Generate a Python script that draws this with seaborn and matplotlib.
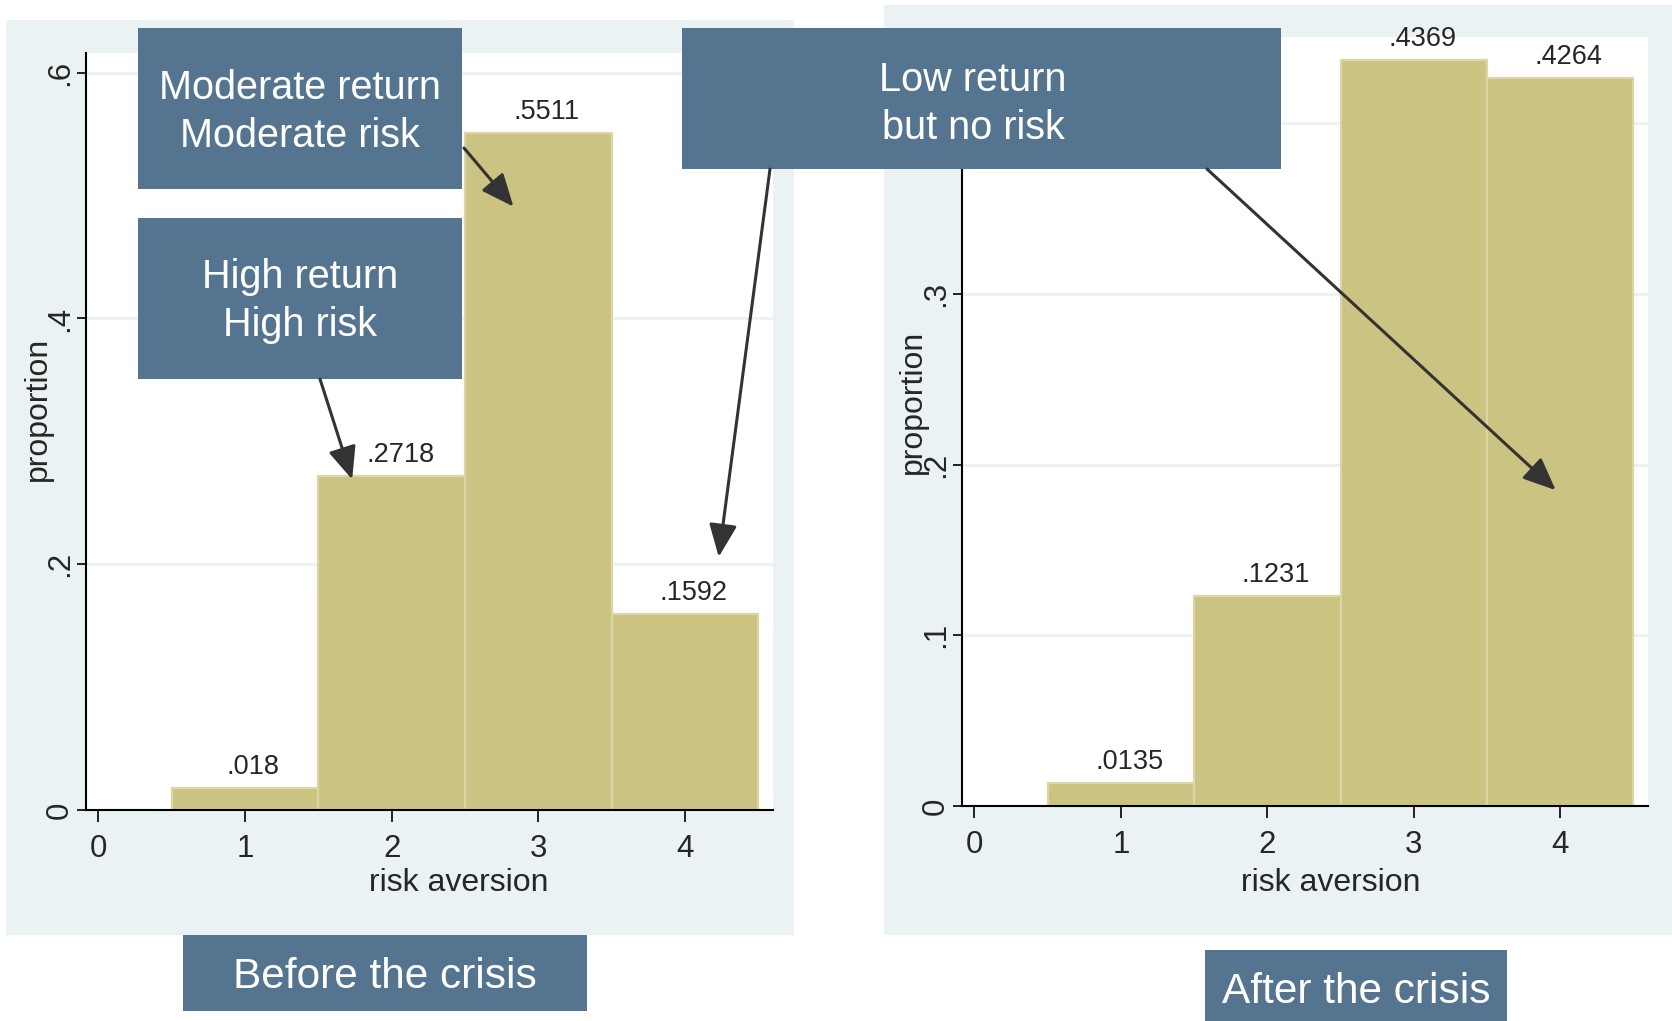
import matplotlib
matplotlib.use("Agg")
import matplotlib.pyplot as plt
from matplotlib.patches import Rectangle, ConnectionPatch
import pandas as pd
import seaborn as sns

sns.set_style("white")
plt.rcParams['font.family'] = ['Liberation Sans', 'DejaVu Sans']

# share of respondents per risk-aversion level
levels = [1, 2, 3, 4]
before = [0.018, 0.2718, 0.5511, 0.1592]
after = [0.0135, 0.1231, 0.4369, 0.4264]
xticks = [0, 1, 2, 3, 4]
before_yticks = [0, 0.2, 0.4, 0.6]
after_yticks = [0, 0.1, 0.2, 0.3, 0.4]

W, H = 1672, 1021
BAR = '#CBC382'
BAR_EDGE = '#DBD6A6'
BOX = '#55748F'
BG = '#EAF2F3'
ARROW = '#333333'


def fx(px):
    return px / W


def fy(py):
    return 1 - py / H


def fmt(v):
    s = f'{v:.4g}'
    return s[1:] if s.startswith('0.') else s


def panel(fig, box, vals, yticks, ytop, xlab_pos, ylab_pos):
    left, top, right, bottom = box
    ax = fig.add_axes([fx(left), fy(bottom), (right - left) / W, (bottom - top) / H])
    df = pd.DataFrame({'risk aversion': levels, 'proportion': vals})
    sns.histplot(data=df, x='risk aversion', weights='proportion', discrete=True, shrink=1,
                 color=BAR, edgecolor=BAR_EDGE, linewidth=1.6, alpha=1, ax=ax)
    ax.set_xlim(-0.085, 4.6)
    ax.set_ylim(0, ytop)
    ax.set_xticks(xticks)
    ax.set_yticks(yticks, [fmt(t) for t in yticks])
    ax.tick_params(axis='x', length=8.6, width=1.2, labelsize=22.5, pad=9, color='black', bottom=True)
    ax.tick_params(axis='y', length=6.8, width=1.2, labelsize=22.5, pad=1, color='black', left=True,
                   labelrotation=90)
    for t, lab in zip(yticks, ax.get_yticklabels()):
        lab.set_va('center')
        # tick labels above the plot top sit under the "Low return" box
        if t > ytop - 0.06:
            lab.set_visible(t <= 0.6 and ytop > 0.6)
    ax.grid(True, axis='y', color=BG, lw=2)
    ax.grid(False, axis='x')
    ax.set_axisbelow(True)
    for s in ['top', 'right']:
        ax.spines[s].set_visible(False)
    for s in ['left', 'bottom']:
        ax.spines[s].set_color('black')
        ax.spines[s].set_linewidth(1.5)
    ax.set_xlabel('risk aversion', fontsize=23)
    ax.xaxis.label.set_va('center')
    ax.xaxis.set_label_coords(*xlab_pos)
    ax.set_ylabel('proportion', fontsize=23)
    ax.yaxis.label.set_va('center')
    ax.yaxis.set_label_coords(*ylab_pos)
    for x, v in zip(levels, vals):
        ax.annotate(fmt(v), (x, v), xytext=(6, 10), textcoords='offset points',
                    ha='center', va='baseline', fontsize=19.5)
    return ax


fig = plt.figure(figsize=(16.72, 10.21), dpi=100)

# panel backgrounds
for l, t, r, b in [(6, 20, 794, 935), (884, 5, 1672, 935)]:
    fig.patches.append(Rectangle((fx(l), fy(b)), (r - l) / W, (b - t) / H, transform=fig.transFigure,
                                 facecolor=BG, edgecolor='none', zorder=-1))

ax1 = panel(fig, (86, 53, 773, 810), before, before_yticks, 0.616, (0.543, -0.0964), (-0.070, 0.53))
ax2 = panel(fig, (962, 37, 1648, 806), after, after_yticks, 0.4505, (0.538, -0.100), (-0.0714, 0.525))

# annotation boxes
boxes = [
    ('Moderate return\nModerate risk', (138, 28, 462, 189), (300, 112), 28.5),
    ('High return\nHigh risk', (138, 218, 462, 379), (300, 301), 28.5),
    ('Low return\nbut no risk', (682, 28, 1281, 169), (973, 104), 28.5),
    ('Before the crisis', (183, 935, 587, 1011), (385, 977), 30.5),
    ('After the crisis', (1205, 950, 1507, 1021), (1356, 992), 30.5),
]
for txt, (l, t, r, b), (cx, cy), size in boxes:
    fig.patches.append(Rectangle((fx(l), fy(b)), (r - l) / W, (b - t) / H, transform=fig.transFigure,
                                 facecolor=BOX, edgecolor='none', zorder=2))
    fig.text(fx(cx), fy(cy), txt, color='white', fontsize=size, ha='center', va='center',
             multialignment='center', linespacing=1.35, zorder=3)

# arrows from the boxes to the bars
arrows = [
    ((464, 148), ax1, (2.83, 0.491)),
    ((320, 379), ax1, (1.73, 0.269)),
    ((770, 169), ax1, (4.23, 0.206)),
    ((1207, 169), ax2, (3.97, 0.185)),
]
for (px, py), ax, tip in arrows:
    con = ConnectionPatch(xyA=(fx(px), fy(py)), coordsA='figure fraction', xyB=tip, coordsB='data',
                          axesB=ax, arrowstyle='-|>,head_length=1.0,head_width=0.43', mutation_scale=20,
                          lw=2.2, color=ARROW, shrinkA=0, shrinkB=0, zorder=6)
    fig.add_artist(con)

fig.savefig('out.png', dpi=100)
